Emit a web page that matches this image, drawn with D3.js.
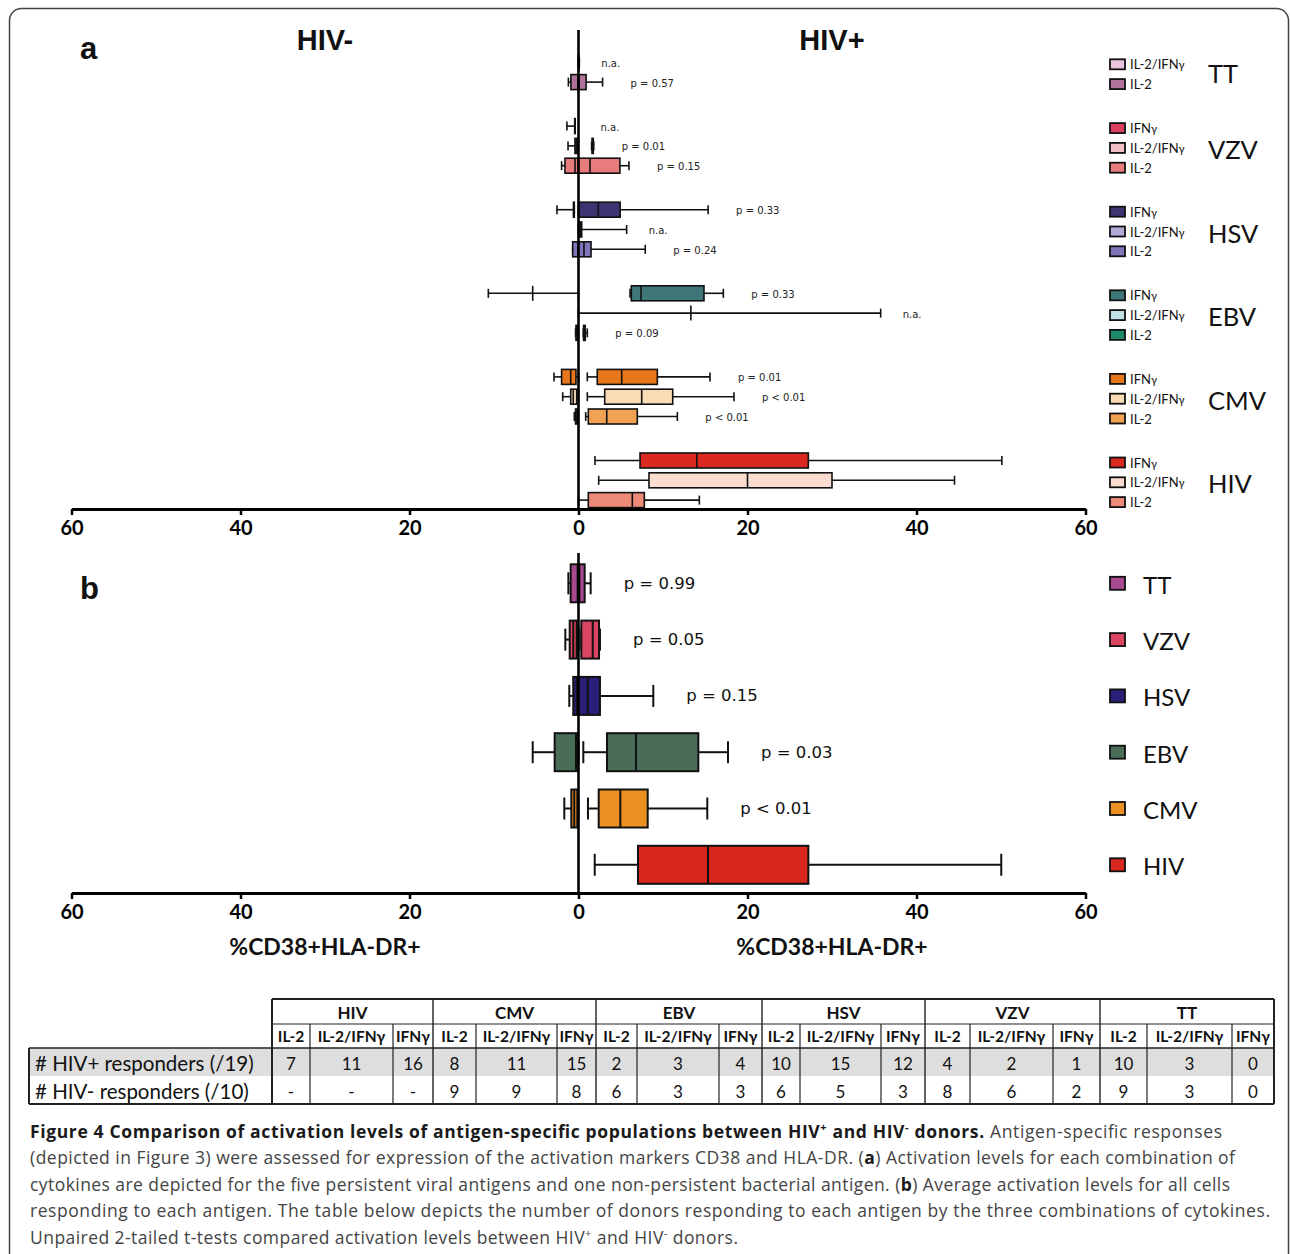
<!DOCTYPE html>
<html><head><meta charset="utf-8">
<script src="https://cdn.jsdelivr.net/npm/d3@7"></script>
<style>html,body{margin:0;padding:0;background:#fff;} svg{display:block;}</style>
</head><body>
<svg id="fig" width="1290" height="1254"></svg>
<script>
// ---------------- DATA ----------------
const antigens = ["TT","VZV","HSV","EBV","CMV","HIV"];
const cytokines = ["IFNγ","IL-2/IFNγ","IL-2"];
// Panel a: five-number summaries [min, q1, median, q3, max] (%CD38+HLA-DR+), order = cytokines
const ttPosA  = [null, [0,0,0,0.05,0.1], [0,0,0.05,0.9,2.85]];
const ttNegA  = [null, null, [0,0,0.05,0.9,1.2]];
const vzvPosA = [null, [1.55,1.6,1.68,1.75,1.8], [0,0,1.36,4.9,5.97]];
const vzvNegA = [[0.4,0.4,0.4,0.45,1.37], [0.2,0.2,0.3,0.42,1.24], [0,0,0.41,1.6,2.0]];
const hsvPosA = [[0,0,2.34,4.93,15.34], [0,0,0.2,0.38,5.7], [0,0,0.65,1.48,7.9]];
const hsvNegA = [[0.5,0.5,0.55,0.6,2.55], null, [0,0,0.05,0.69,0.69]];
const ebvPosA = [[6.1,6.25,7.4,14.85,17.14], [0,13.3,13.3,13.3,35.76], [0.57,0.6,0.7,0.8,1.04]];
const ebvNegA = [[0,5.42,5.42,5.42,10.67], null, [0,0.1,0.2,0.3,0.35]];
const cmvPosA = [[1.04,2.22,5.11,9.33,15.56], [1.04,3.1,7.48,11.15,18.4], [0.85,1.16,3.34,6.96,11.7]];
const cmvNegA = [[0,0.3,0.92,2.0,2.9], [0,0.21,0.62,0.92,1.87], [0,0.1,0.2,0.35,0.5]];
const hivPosA = [[1.95,7.28,14.0,27.2,50.1], [2.39,8.34,20.0,30.0,44.5], [0,1.16,6.37,7.79,14.3]];
const hivNegA = [null, null, null];
// Panel a p-values
const ttP  = [null, "n.a.", "p = 0.57"];
const vzvP = ["n.a.", "p = 0.01", "p = 0.15"];
const hsvP = ["p = 0.33", "n.a.", "p = 0.24"];
const ebvP = ["p = 0.33", "n.a.", "p = 0.09"];
const cmvP = ["p = 0.01", "p < 0.01", "p < 0.01"];
const hivP = [null, null, null];
// Panel b: all cells responding to each antigen (order = antigens)
const posB = [[0,0,0.1,0.73,1.44],[0.33,0.33,1.68,2.43,2.54],[0,0,1.09,2.54,8.85],[0.57,3.37,6.8,14.18,17.69],[1.12,2.39,4.95,8.19,15.24],[1.92,7.04,15.33,27.2,50.03]];
const negB = [[0,0,0.1,0.93,1.2],[0,0.21,0.62,1.04,1.56],[0,0,0.2,0.62,1.09],[0,0.14,0.3,2.82,5.42],[0,0.14,0.5,0.85,1.68],null];
const pB = ["p = 0.99","p = 0.05","p = 0.15","p = 0.03","p < 0.01",null];
const tickValues = [-60,-40,-20,0,20,40,60];
const axisTitle = "%CD38+HLA-DR+";
// Table
const tableAntigens = ["HIV","CMV","EBV","HSV","VZV","TT"];
const tableCytokines = ["IL-2","IL-2/IFNγ","IFNγ"];
const hivPosResp = [7,11,16, 8,11,15, 2,3,4, 10,15,12, 4,2,1, 10,3,0];
const hivNegResp = ["-","-","-", 9,9,8, 6,3,3, 6,5,3, 8,6,2, 9,3,0];
const rowLabels = ["# HIV+ responders (/19)", "# HIV- responders (/10)"];

// ---------------- STYLE ----------------
const colorsA = {
  TT:  [null, "#e9c4dc", "#b0749c"],
  VZV: ["#d9405e", "#f3bfc5", "#e87b7b"],
  HSV: ["#3d3572", "#b2aad6", "#7f75b9"],
  EBV: ["#3f7779", "#c0e1e5", "#1b8a6a"],
  CMV: ["#e8771b", "#f9dcb5", "#f1a152"],
  HIV: ["#d92920", "#fadcd1", "#ed8a78"]
};
const colorsB = ["#a8488f", "#dc4562", "#2b2079", "#4a6d58", "#ec9121", "#d8271f"];
const posA = [ttPosA, vzvPosA, hsvPosA, ebvPosA, cmvPosA, hivPosA];
const negA = [ttNegA, vzvNegA, hsvNegA, ebvNegA, cmvNegA, hivNegA];
const pA = [ttP, vzvP, hsvP, ebvP, cmvP, hivP];

const svg = d3.select("#fig");
const x = d3.scaleLinear().domain([-60, 60]).range([71.5, 1085.5]);
const groupY = d3.scaleBand().domain(antigens).range([42.5, 42.5 + 6 * 83.6]);
const rowY = d3.scalePoint().domain(cytokines).range([0, 39.6]);
const yB = d3.scalePoint().domain(antigens).range([583.3, 583.3 + 5 * 56.3]);

// frame
svg.append("rect").attr("x", 9.5).attr("y", 8.5).attr("width", 1279).attr("height", 1300)
  .attr("rx", 12).attr("fill", "none").attr("stroke", "#444").attr("stroke-width", 1.5);

function drawBox(g, s, side, yc, h, capH, fill, sw) {
  if (!s) return;
  const [mn, q1, md, q3, mx] = s.map(v => x(side * v));
  const ln = (x1, x2, y1, y2) => g.append("line").attr("x1", x1).attr("x2", x2).attr("y1", y1).attr("y2", y2)
      .attr("stroke", "#111").attr("stroke-width", sw);
  ln(mn, q1, yc, yc);
  ln(q3, mx, yc, yc);
  ln(mn, mn, yc - capH / 2, yc + capH / 2);
  ln(mx, mx, yc - capH / 2, yc + capH / 2);
  g.append("rect").attr("x", Math.min(q1, q3)).attr("y", yc - h / 2)
    .attr("width", Math.abs(q3 - q1)).attr("height", h)
    .attr("fill", fill).attr("stroke", "#111").attr("stroke-width", sw);
  ln(md, md, yc - h / 2, yc + h / 2);
}

function drawAxis(yAx, yTop) {
  const ax = d3.axisBottom(x).tickValues(tickValues).tickFormat(d => Math.abs(d))
    .tickSize(6).tickSizeOuter(0).tickPadding(6);
  const g = svg.append("g").attr("transform", `translate(0,${yAx})`).call(ax);
  g.select(".domain").attr("stroke", "#000").attr("stroke-width", 3);
  g.selectAll(".tick line").attr("stroke", "#000").attr("stroke-width", 2.5);
  g.selectAll(".tick text").attr("font-family", "Lato, sans-serif").attr("font-weight", "bold")
    .attr("font-size", 20).attr("fill", "#000");
  svg.append("line").attr("x1", x(0)).attr("x2", x(0)).attr("y1", yTop).attr("y2", yAx)
    .attr("stroke", "#000").attr("stroke-width", 2.6);
}

// ---------------- PANEL A ----------------
const gA = svg.append("g");
antigens.forEach((ag, gi) => {
  cytokines.forEach((cy, ri) => {
    const yc = groupY(ag) + rowY(cy);
    const col = colorsA[ag][ri] || "#ccc";
    drawBox(gA, negA[gi][ri], -1, yc, 15, 9, col, 1.6);
    drawBox(gA, posA[gi][ri], 1, yc, 15, 9, col, 1.6);
    const lab = pA[gi][ri];
    if (lab) {
      const s = posA[gi][ri];
      const base = s ? x(s[4]) : x(0);
      gA.append("text").attr("x", base + (lab === "n.a." ? 22 : 28)).attr("y", yc + 1)
        .attr("dominant-baseline", "central").attr("font-family", "DejaVu Sans, sans-serif")
        .attr("font-size", 10).attr("fill", "#222").text(lab);
    }
  });
});
drawAxis(509, 30);

// legend a
const gLA = svg.append("g");
antigens.forEach((ag, gi) => {
  const present = cytokines.filter((c, ri) => colorsA[ag][ri]);
  present.forEach(cy => {
    const ri = cytokines.indexOf(cy);
    const yc = groupY(ag) + rowY(cy) + 2;
    gLA.append("rect").attr("x", 1110).attr("y", yc - 5).attr("width", 15).attr("height", 10)
      .attr("fill", colorsA[ag][ri]).attr("stroke", "#111").attr("stroke-width", 1.8);
    const t = gLA.append("text").attr("x", 1130).attr("y", yc).attr("dominant-baseline", "central")
      .attr("font-family", "Lato, sans-serif").attr("font-size", 13).attr("fill", "#111");
    if (cy.endsWith("γ")) {
      t.append("tspan").text(cy.slice(0, -1));
      t.append("tspan").attr("font-size", 11).text("γ");
    } else {
      t.text(cy);
    }
  });
  const ys = present.map(cy => groupY(ag) + rowY(cy));
  const mid = present.length === 3 ? ys[1] + 3 : (ys[0] + ys[1]) / 2 + 1;
  gLA.append("text").attr("x", 1208).attr("y", mid).attr("dominant-baseline", "central")
    .attr("font-family", "Lato, sans-serif").attr("font-size", 25.5).attr("fill", "#111").text(ag);
});

// titles
const title = (txt, xx, yy, size) => svg.append("text").attr("x", xx).attr("y", yy)
  .attr("font-family", "Liberation Sans, Arial, sans-serif").attr("font-weight", "bold")
  .attr("font-size", size).attr("fill", "#111").text(txt);
title("a", 80, 59, 31);
title("b", 80, 599, 31);
title("HIV-", x(-30), 50, 29).attr("text-anchor", "middle");
title("HIV+", x(30), 50, 29).attr("text-anchor", "middle");

// ---------------- PANEL B ----------------
const gB = svg.append("g");
antigens.forEach((ag, i) => {
  const yc = yB(ag);
  drawBox(gB, negB[i], -1, yc, 38, 22, colorsB[i], 2);
  drawBox(gB, posB[i], 1, yc, 38, 22, colorsB[i], 2);
  if (pB[i]) {
    gB.append("text").attr("x", x(posB[i][4]) + 33).attr("y", yc)
      .attr("dominant-baseline", "central").attr("font-family", "DejaVu Sans, sans-serif")
      .attr("font-size", 16.5).attr("fill", "#111").text(pB[i]);
  }
  // legend b
  gB.append("rect").attr("x", 1110).attr("y", yc - 6.5).attr("width", 15).attr("height", 13)
    .attr("fill", colorsB[i]).attr("stroke", "#111").attr("stroke-width", 1.8);
  gB.append("text").attr("x", 1143).attr("y", yc + 1).attr("dominant-baseline", "central")
    .attr("font-family", "Lato, sans-serif").attr("font-size", 24).attr("fill", "#111").text(ag);
});
drawAxis(893, 553);
[x(-30), x(30)].forEach(xx => svg.append("text").attr("x", xx).attr("y", 955)
  .attr("text-anchor", "middle").attr("font-family", "Lato, sans-serif").attr("font-weight", "bold")
  .attr("font-size", 23).attr("fill", "#111").text(axisTitle));

// ---------------- TABLE ----------------
const colEdges = [272,310,393,433,476,557,596,637,719,762,800,881,925,970,1053,1100,1147,1232,1274];
const rowEdges = [999,1024,1048,1076,1104];
const labelLeft = 29;
const gT = svg.append("g");
gT.append("rect").attr("x", labelLeft).attr("y", rowEdges[2]).attr("width", colEdges[18] - labelLeft)
  .attr("height", rowEdges[3] - rowEdges[2]).attr("fill", "#dedede");
const tl = (x1, x2, y1, y2, w) => gT.append("line").attr("x1", x1).attr("x2", x2).attr("y1", y1).attr("y2", y2)
  .attr("stroke", "#222").attr("stroke-width", w);
tl(colEdges[0], colEdges[18], rowEdges[0], rowEdges[0], 2);
tl(colEdges[0], colEdges[18], rowEdges[1], rowEdges[1], 1.2);
tl(labelLeft, colEdges[18], rowEdges[2], rowEdges[2], 1.6);
tl(labelLeft, colEdges[18], rowEdges[4], rowEdges[4], 2);
tl(labelLeft, labelLeft, rowEdges[2], rowEdges[4], 2);
colEdges.forEach((cx, i) => {
  if (i % 3 === 0) tl(cx, cx, rowEdges[0], rowEdges[4], (i === 0 || i === 18) ? 2 : 1.4);
  else tl(cx, cx, rowEdges[1], rowEdges[4], 1.2);
});
const tt = (txt, xx, yy, size, weight, anchor) => gT.append("text").attr("x", xx).attr("y", yy)
  .attr("text-anchor", anchor || "middle").attr("dominant-baseline", "central")
  .attr("font-family", "Lato, sans-serif").attr("font-size", size).attr("font-weight", weight || "normal")
  .attr("fill", "#111").text(txt);
tableAntigens.forEach((ag, gi) => {
  tt(ag, (colEdges[gi * 3] + colEdges[gi * 3 + 3]) / 2, (rowEdges[0] + rowEdges[1]) / 2 + 1, 17, "bold");
  tableCytokines.forEach((cy, ci) => {
    const k = gi * 3 + ci;
    const cx = (colEdges[k] + colEdges[k + 1]) / 2;
    tt(cy, cx, (rowEdges[1] + rowEdges[2]) / 2, 15.5, "bold");
    tt(String(hivPosResp[k]), cx, (rowEdges[2] + rowEdges[3]) / 2 + 1, 17);
    tt(String(hivNegResp[k]), cx, (rowEdges[3] + rowEdges[4]) / 2 + 1, 17);
  });
});
rowLabels.forEach((lab, i) => tt(lab, 35, (rowEdges[2 + i] + rowEdges[3 + i]) / 2 + 1, 20.5, "normal", "start"));

// ---------------- CAPTION ----------------
const capLines = [
  { y: 1138, w: 1192, parts: [
    {t: "Figure 4 Comparison of activation levels of antigen-specific populations between HIV", b: 1},
    {t: "+", b: 1, sup: 1}, {t: " and HIV", b: 1}, {t: "-", b: 1, sup: 1}, {t: " donors.", b: 1},
    {t: " Antigen-specific responses"}]},
  { y: 1164, w: 1205, parts: [
    {t: "(depicted in Figure 3) were assessed for expression of the activation markers CD38 and HLA-DR. ("},
    {t: "a", b: 1}, {t: ") Activation levels for each combination of"}]},
  { y: 1191, w: 1200, parts: [
    {t: "cytokines are depicted for the five persistent viral antigens and one non-persistent bacterial antigen. ("},
    {t: "b", b: 1}, {t: ") Average activation levels for all cells"}]},
  { y: 1217, w: 1240, parts: [
    {t: "responding to each antigen. The table below depicts the number of donors responding to each antigen by the three combinations of cytokines."}]},
  { y: 1244, w: 708, parts: [
    {t: "Unpaired 2-tailed t-tests compared activation levels between HIV"}, {t: "+", sup: 1},
    {t: " and HIV"}, {t: "-", sup: 1}, {t: " donors."}]}
];
capLines.forEach(line => {
  const t = svg.append("text").attr("x", 30).attr("y", line.y).attr("font-family", "Open Sans, sans-serif")
    .attr("font-size", 17.5).attr("fill", "#444").attr("textLength", line.w).attr("lengthAdjust", "spacing");
  let shifted = false;
  line.parts.forEach(p => {
    const s = t.append("tspan").text(p.t);
    if (p.b) s.attr("font-weight", "bold").attr("fill", "#1a1a1a");
    if (p.sup) { s.attr("font-size", 11).attr("dy", -7); shifted = true; }
    else if (shifted) { s.attr("dy", 7); shifted = false; }
  });
});
</script>
</body></html>
